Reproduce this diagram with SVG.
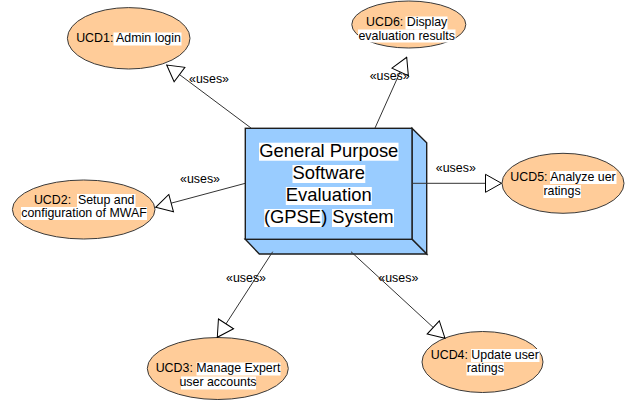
<svg xmlns="http://www.w3.org/2000/svg" width="625" height="401" viewBox="0 0 625 401">
<style>
.uc{fill:#ffcc99;stroke:#3a3a3a;stroke-width:1}
.hl{fill:#ffffff}
.t{font-family:"Liberation Sans",Arial,sans-serif;font-size:12.4px;fill:#000;text-anchor:middle;white-space:pre}
.bt{font-family:"Liberation Sans",Arial,sans-serif;font-size:18.4px;fill:#000;text-anchor:middle}
.face{fill:#99ccff;stroke:#1e1e1e;stroke-width:1.4;stroke-linejoin:miter}
.con{stroke:#333;stroke-width:1;fill:none;marker-end:url(#tri)}
.lbl{font-family:"Liberation Sans",Arial,sans-serif;font-size:12.4px;fill:#000;text-anchor:middle}
</style>
<defs>
<marker id="tri" viewBox="-1 -1 18 20" refX="16" refY="9" markerWidth="18" markerHeight="20" markerUnits="userSpaceOnUse" orient="auto">
<path d="M0,0 L16,9 L0,18 Z" fill="#fff" stroke="#000" stroke-width="1"/>
</marker>
</defs>
<rect width="625" height="401" fill="#fff"/>

<g id="UCD1">
<ellipse class="uc" cx="128.7" cy="38.3" rx="61.3" ry="30.7"/>
<rect class="hl" x="113.5" y="32.5" width="68" height="13"/>
<text class="t" x="128.5" y="42.3">UCD1: Admin login</text>
</g>

<g id="UCD6">
<ellipse class="uc" cx="408.8" cy="24.5" rx="57" ry="23.5"/>
<rect class="hl" x="405.5" y="16.5" width="42" height="13"/>
<rect class="hl" x="358" y="29.5" width="97.5" height="13"/>
<text class="t" x="406.7" y="26">UCD6: Display</text>
<text class="t" x="406.7" y="39.5">evaluation results</text>
</g>

<g id="UCD2">
<ellipse class="uc" cx="83.7" cy="209.5" rx="71.3" ry="29.5"/>
<rect class="hl" x="77" y="194" width="58.5" height="13"/>
<rect class="hl" x="21" y="207" width="126" height="13"/>
<text class="t" x="84.2" y="203.5">UCD2:  Setup and</text>
<text class="t" x="84" y="217">configuration of MWAF</text>
</g>

<g id="UCD5">
<ellipse class="uc" cx="563" cy="183.3" rx="61" ry="30"/>
<rect class="hl" x="550" y="171" width="66.5" height="13"/>
<rect class="hl" x="543.4" y="185" width="37.5" height="13"/>
<text class="t" x="563" y="180.5">UCD5: Analyze uer</text>
<text class="t" x="562" y="194.5">ratings</text>
</g>

<g id="UCD3">
<ellipse class="uc" cx="217.8" cy="368.5" rx="70.5" ry="31"/>
<rect class="hl" x="196.5" y="362.5" width="84" height="13"/>
<rect class="hl" x="181" y="376.5" width="75" height="13"/>
<text class="t" x="218" y="372">UCD3: Manage Expert</text>
<text class="t" x="218" y="386">user accounts</text>
</g>

<g id="UCD4">
<ellipse class="uc" cx="482.5" cy="362" rx="60.5" ry="30.5"/>
<rect class="hl" x="471" y="349" width="68.5" height="13"/>
<rect class="hl" x="466.5" y="362.5" width="37.5" height="13"/>
<text class="t" x="484.8" y="358.5">UCD4: Update user</text>
<text class="t" x="485.3" y="372">ratings</text>
</g>

<g id="GPSE">
<polygon class="face" points="412,128.3 426.7,142.7 426.7,254 412,239.3"/>
<polygon class="face" points="245.3,239.3 259.3,254 426.7,254 412,239.3"/>
<rect class="face" x="245.3" y="128.3" width="166.7" height="111"/>
<rect class="hl" x="259" y="142.7" width="139.5" height="18"/>
<rect class="hl" x="292.5" y="165" width="72.8" height="18"/>
<rect class="hl" x="285.8" y="187" width="86" height="18"/>
<rect class="hl" x="264.3" y="209" width="57.5" height="18"/>
<rect class="hl" x="332" y="209" width="62" height="18"/>
<text class="bt" x="328.8" y="157">General Purpose</text>
<text class="bt" x="328.8" y="179">Software</text>
<text class="bt" x="328.8" y="201">Evaluation</text>
<text class="bt" x="328.8" y="223">(GPSE) System</text>
</g>

<g id="connectors">
<line class="con" x1="251" y1="128" x2="166.7" y2="65"/>
<line class="con" x1="375" y1="128" x2="406.7" y2="57.3"/>
<line class="con" x1="245.3" y1="183.3" x2="155.7" y2="207.3"/>
<line class="con" x1="412" y1="183.3" x2="501.5" y2="183.3"/>
<line class="con" x1="272.7" y1="251.7" x2="217.3" y2="337.3"/>
<line class="con" x1="351" y1="251.7" x2="445" y2="338.3"/>
<text class="lbl" x="209" y="83">«uses»</text>
<text class="lbl" x="389.7" y="80">«uses»</text>
<text class="lbl" x="200" y="183">«uses»</text>
<text class="lbl" x="455.8" y="171.5">«uses»</text>
<text class="lbl" x="246" y="282">«uses»</text>
<text class="lbl" x="398.3" y="282">«uses»</text>
</g>
</svg>
